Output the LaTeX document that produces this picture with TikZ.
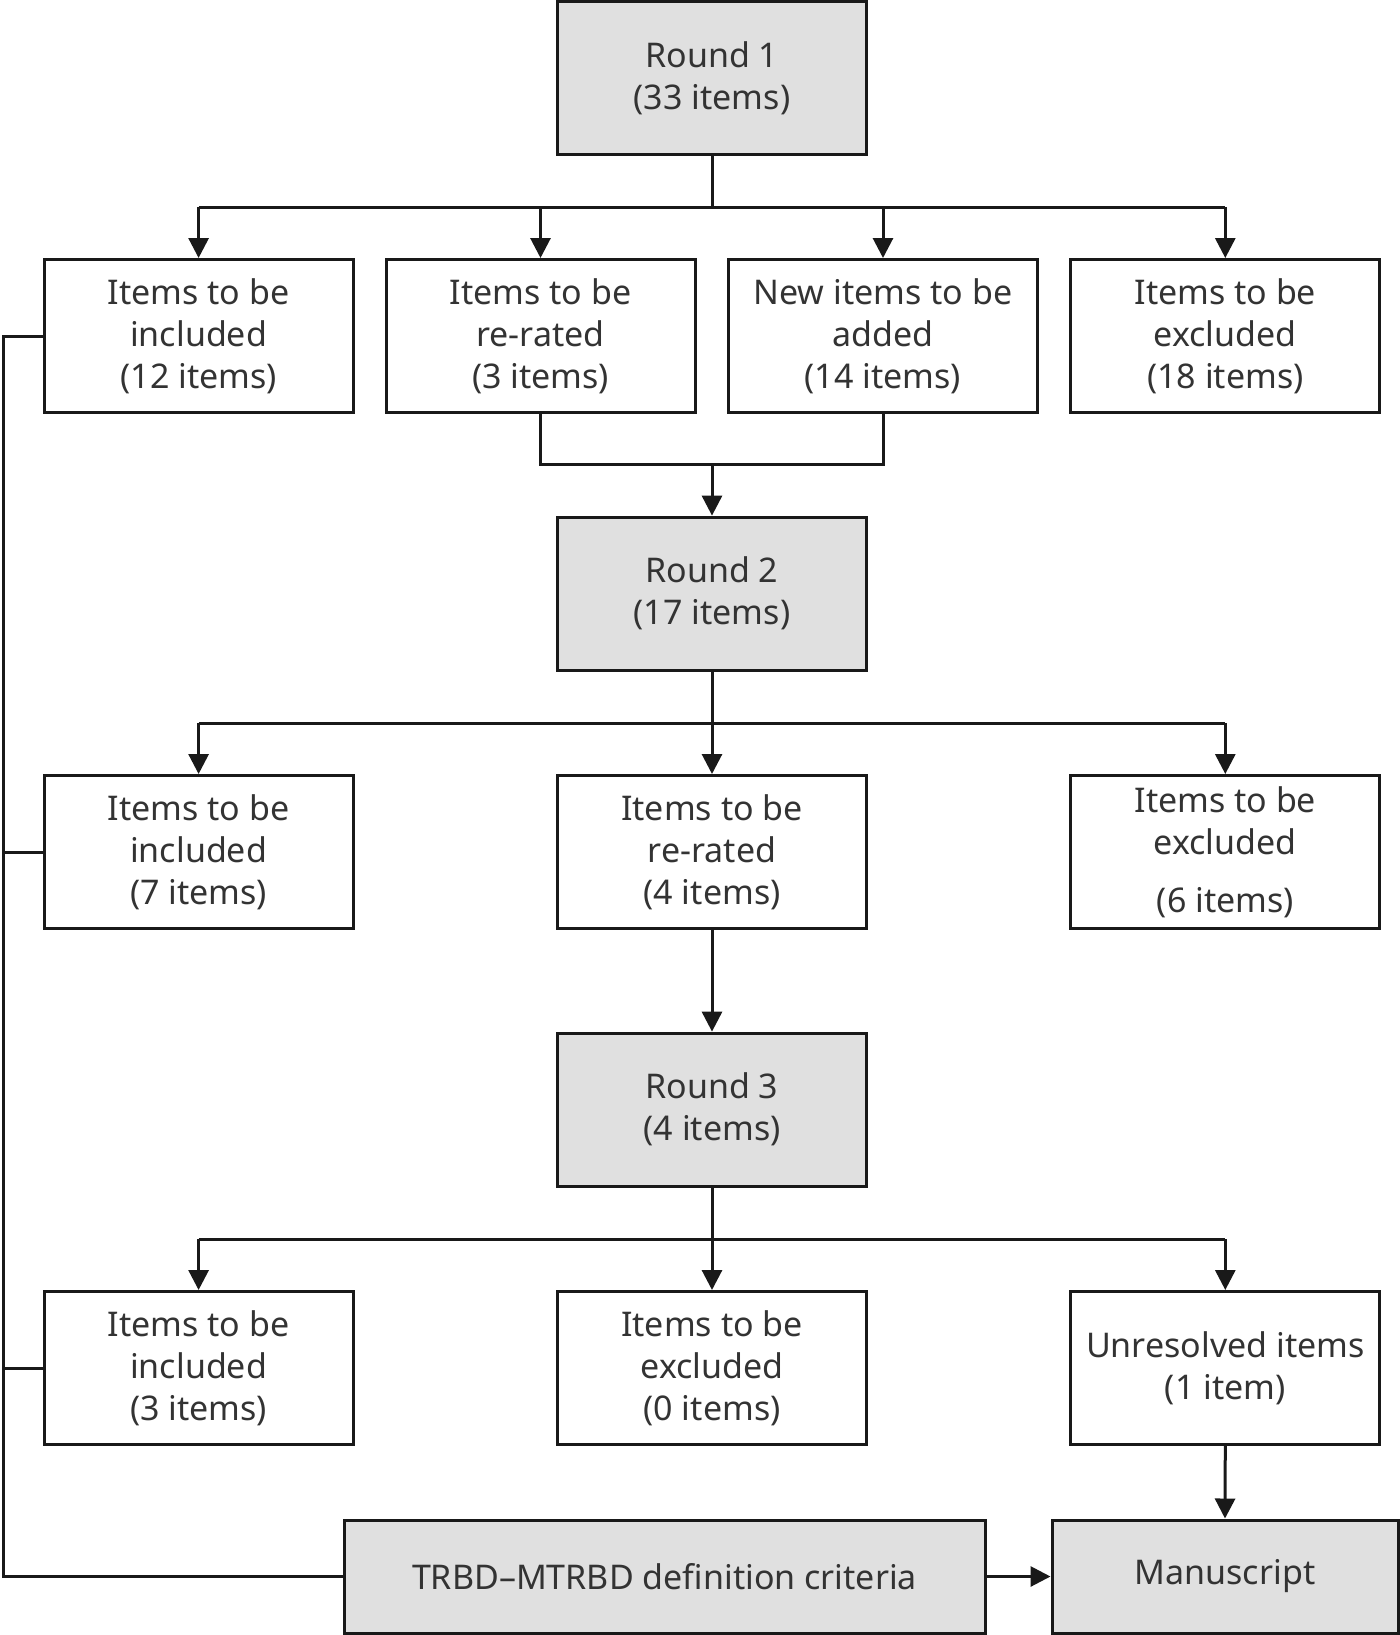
\documentclass[tikz,border=0pt]{standalone}
\usepackage{fontspec}
\setmainfont{Noto Sans}
\usetikzlibrary{arrows.meta}
\definecolor{boxgray}{HTML}{E0E0E0}
\definecolor{txtgray}{HTML}{333333}
\tikzset{
  box/.style={draw=black!90, line width=1.5pt, minimum width=154.5pt, minimum height=76.5pt,
    align=center, text=txtgray, inner sep=0pt, font=\fontsize{17}{21}\selectfont},
  graybox/.style={box, fill=boxgray},
  conn/.style={line width=1.5pt, draw=black!90},
  arr/.style={conn, -{Triangle[length=10pt,width=10pt]}}
}
\begin{document}
\begin{tikzpicture}[x=0.5pt,y=-0.5pt]
\useasboundingbox (0,0) rectangle (1400,1635);
% nodes
\node[graybox] (r1) at (712,78) {Round 1\\(33 items)};
\node[box] (a1) at (198.6,336) {Items to be\\included\\(12 items)};
\node[box] (a2) at (540.5,336) {Items to be\\re-rated\\(3 items)};
\node[box] (a3) at (883,336) {New items to be\\added\\(14 items)};
\node[box] (a4) at (1225.3,336) {Items to be\\excluded\\(18 items)};
\node[graybox] (r2) at (712,593.6) {Round 2\\(17 items)};
\node[box] (b1) at (198.6,852) {Items to be\\included\\(7 items)};
\node[box] (b2) at (712,852) {Items to be\\re-rated\\(4 items)};
\node[box] (b3) at (1225.3,852) {Items to be\\excluded\\[8pt](6 items)};
\node[graybox] (r3) at (712,1109.6) {Round 3\\(4 items)};
\node[box] (c1) at (198.6,1368) {Items to be\\included\\(3 items)};
\node[box] (c2) at (712,1368) {Items to be\\excluded\\(0 items)};
\node[box] (c3) at (1225.3,1368) {Unresolved items\\(1 item)};
\node[graybox, minimum width=320.5pt, minimum height=56.5pt] (trbd) at (664.5,1576.5) {TRBD--MTRBD definition criteria};
\node[graybox, minimum width=173pt, minimum height=56.5pt] (manu) at (1225,1576.5) {Manuscript};
% helper coordinates
\coordinate (bus1) at (0,207.4);
\coordinate (m1) at (712,464.9);
\coordinate (bus2) at (0,723.4);
\coordinate (bus3) at (0,1239.4);
\coordinate (L) at (3.1,0);
% round 1
\draw[conn] (r1.south) -- (r1.south |- bus1);
\draw[conn] (a1.north |- bus1) -- (a4.north |- bus1);
\foreach \n in {a1,a2,a3,a4} \draw[arr] (\n.north |- bus1) -- (\n.north);
% merge into round 2
\draw[conn] (a2.south) -- (a2.south |- m1) -- (a3.south |- m1) -- (a3.south);
\draw[arr] (m1) -- (r2.north);
% round 2
\draw[conn] (r2.south) -- (r2.south |- bus2);
\draw[conn] (b1.north |- bus2) -- (b3.north |- bus2);
\foreach \n in {b1,b2,b3} \draw[arr] (\n.north |- bus2) -- (\n.north);
\draw[arr] (b2.south) -- (r3.north);
% round 3
\draw[conn] (r3.south) -- (r3.south |- bus3);
\draw[conn] (c1.north |- bus3) -- (c3.north |- bus3);
\foreach \n in {c1,c2,c3} \draw[arr] (\n.north |- bus3) -- (\n.north);
% bottom
\draw[arr] (c3.south) -- (manu.north);
\draw[arr] (trbd.east) -- (manu.west);
\draw[conn] (a1.west) -- (a1.west -| L) -- (L |- trbd.west) -- (trbd.west);
\draw[conn] (b1.west) -- (b1.west -| L);
\draw[conn] (c1.west) -- (c1.west -| L);
\end{tikzpicture}
\end{document}
